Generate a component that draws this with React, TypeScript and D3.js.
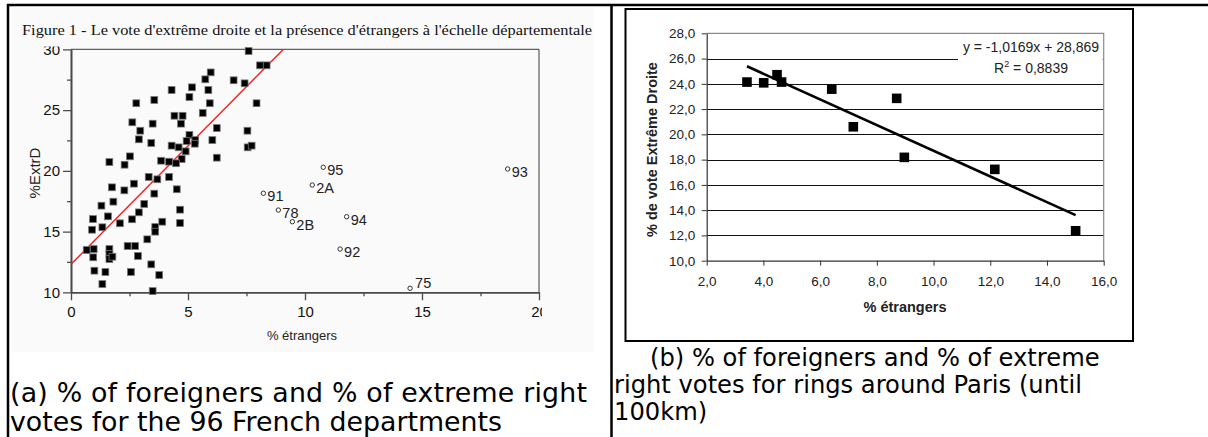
import { useEffect, useRef } from "react";
import * as d3 from "d3";

const SANS = "'Liberation Sans', Arial, sans-serif";
const SERIF = "'Liberation Serif', 'Times New Roman', serif";
const CAPTION = "'DejaVu Sans', Verdana, sans-serif";

// (a) the 96 departments: % foreigners vs % extreme right vote
const deptForeigners = [
  7.59, 8.08, 8.36, 5.97, 5.74, 6.95, 7.42, 5.17, 4.3, 5.87, 5.06, 2.79, 3.56, 5.93, 7.93, 5.63,
  4.42, 4.77, 2.62, 3.49, 4.7, 2.96, 6.23, 7.54, 2.9, 3.43, 5.06, 4.94, 5.31, 5.29, 6.04, 4.3,
  4.6, 4.9, 7.55, 7.72, 4.73, 4.49, 4.19, 3.85, 6.23, 1.64, 2.29, 2.52, 3.32, 3.69, 4.19,
  2.69, 1.75, 2.28, 4.52, 3.56, 1.81, 1.3, 3.13, 2.9, 1.58, 0.94, 2.61, 2.09, 0.9, 1.34, 4.66,
  4.66, 3.9, 3.6, 3.6, 3.26, 0.67, 0.97, 1.64, 1.64, 0.95, 1.64, 1.77, 2.42, 2.74, 2.86, 3.43,
  3.77, 1.0, 1.47, 2.56, 1.34, 3.49
];
const deptVote = [
  29.86, 28.68, 28.68, 28.1, 27.53, 27.45, 27.2, 26.87, 26.65, 26.65, 26.07, 25.56, 25.83, 25.56, 25.56, 24.76,
  24.53, 24.53, 23.99, 23.88, 23.88, 23.3, 23.52, 23.3, 22.59, 22.29, 22.95, 22.45, 22.53, 22.23, 22.53, 22.07,
  21.93, 21.6, 21.93, 22.07, 20.97, 20.62, 20.75, 20.83, 21.08, 20.72, 20.5, 21.19, 19.49, 19.3, 19.49,
  18.94, 18.64, 18.39, 18.48, 18.12, 17.46, 17.13, 17.27, 16.58, 16.25, 16.03, 16.01, 15.68, 15.15, 15.35, 16.8,
  15.7, 15.81, 15.37, 14.99, 14.36, 13.48, 13.56, 13.56, 13.15, 12.88, 12.74, 12.93, 13.81, 13.81, 12.99, 12.3,
  11.42, 11.78, 11.67, 11.67, 10.68, 10.1
];

// labelled departments (open circles)
const outlierCodes = ["95", "93", "2A", "91", "78", "2B", "94", "92", "75"];
const outlierForeigners = [10.78, 18.66, 10.31, 8.22, 8.86, 9.46, 11.78, 11.5, 14.49];
const outlierVote = [20.29, 20.15, 18.83, 18.15, 16.77, 15.81, 16.22, 13.56, 10.33];

const deptTicksX = [0, 5, 10, 15, 20];
const deptMinorX = [2.5, 7.5, 12.5, 17.5];
const deptTicksY = [10, 15, 20, 25, 30];
const deptMinorY = [12.5, 17.5, 22.5, 27.5];
const deptFitIntercept = 12.3;
const deptFitSlope = 1.95;

// (b) rings around Paris
const ringForeigners = [3.42, 4.01, 4.48, 4.64, 6.41, 7.17, 8.7, 8.97, 12.16, 15.01];
const ringVote = [24.14, 24.08, 24.72, 24.14, 23.58, 20.6, 22.85, 18.18, 17.23, 12.37];
const ringTicksX = [2, 4, 6, 8, 10, 12, 14, 16];
const ringTicksY = [10, 12, 14, 16, 18, 20, 22, 24, 26, 28];
const trendSlope = -1.0169;
const trendIntercept = 28.869;
const trendR2 = 0.8839;

const frNum = (v: number, digits: number) => v.toFixed(digits).replace(".", ",");

function DepartmentScatter() {
  const ref = useRef<SVGGElement>(null);

  useEffect(() => {
    if (!ref.current) return;
    const g = d3.select(ref.current);
    g.selectAll("*").remove();

    const x = d3.scaleLinear().domain([0, 20]).range([71, 539]);
    const y = d3.scaleLinear().domain([10, 30]).range([292.3, 49.3]);

    const defs = g.append("defs");
    defs.append("clipPath").attr("id", "crop-a").append("rect")
      .attr("x", 12).attr("y", 46.5).attr("width", 530).attr("height", 306);
    defs.append("clipPath").attr("id", "plot-a").append("rect")
      .attr("x", x(0)).attr("y", y(30)).attr("width", x(20) - x(0)).attr("height", y(10) - y(30));

    const fig = g.append("g").attr("clip-path", "url(#crop-a)");

    fig.append("path")
      .attr("d", `M${x(0)},${y(30)}H${x(20)}V${y(10)}`)
      .attr("fill", "none")
      .attr("stroke", "#3a3a3a")
      .attr("stroke-width", 1);

    const styleAxis = (sel: any) => {
      sel.attr("font-family", SANS).attr("font-size", 15).attr("color", "#4a4a4a");
      sel.select(".domain").attr("stroke-width", 1.6);
      sel.selectAll(".tick line").attr("stroke-width", 1.3);
      sel.selectAll("text").attr("fill", "#111");
    };

    fig.append("g")
      .attr("transform", `translate(0,${y(10)})`)
      .call(d3.axisBottom(x).tickValues(deptTicksX).tickSize(8).tickSizeOuter(0).tickPadding(6).tickFormat(d3.format("d")))
      .call(styleAxis);
    fig.append("g")
      .attr("transform", `translate(0,${y(10)})`)
      .call(d3.axisBottom(x).tickValues(deptMinorX).tickSize(4).tickSizeOuter(0).tickFormat(() => ""))
      .call(styleAxis);
    fig.append("g")
      .attr("transform", `translate(${x(0)},0)`)
      .call(d3.axisLeft(y).tickValues(deptTicksY).tickSize(8).tickSizeOuter(0).tickPadding(3).tickFormat(d3.format("d")))
      .call(styleAxis);
    fig.append("g")
      .attr("transform", `translate(${x(0)},0)`)
      .call(d3.axisLeft(y).tickValues(deptMinorY).tickSize(4).tickSizeOuter(0).tickFormat(() => ""))
      .call(styleAxis);

    fig.append("g")
      .attr("clip-path", "url(#plot-a)")
      .append("line")
      .attr("x1", x(0))
      .attr("y1", y(deptFitIntercept))
      .attr("x2", x(20))
      .attr("y2", y(deptFitIntercept + deptFitSlope * 20))
      .attr("stroke", "#ff1a1a")
      .attr("stroke-width", 1.4);

    const depts = deptForeigners.map((v, i) => ({ x: v, y: deptVote[i] }));
    fig.append("g")
      .selectAll("rect")
      .data(depts)
      .join("rect")
      .attr("x", (d) => x(d.x) - 3.4)
      .attr("y", (d) => y(d.y) - 3.4)
      .attr("width", 6.8)
      .attr("height", 6.8)
      .attr("fill", "#000")
      .attr("stroke", "#777")
      .attr("stroke-width", 0.8);

    const outliers = outlierCodes.map((code, i) => ({ code, x: outlierForeigners[i], y: outlierVote[i] }));
    fig.append("g")
      .selectAll("circle")
      .data(outliers)
      .join("circle")
      .attr("cx", (d) => x(d.x))
      .attr("cy", (d) => y(d.y))
      .attr("r", 2.2)
      .attr("fill", "#fff")
      .attr("stroke", "#333")
      .attr("stroke-width", 1);
    fig.append("g")
      .selectAll("text")
      .data(outliers)
      .join("text")
      .attr("x", (d) => x(d.x) + (d.code === "75" ? 5 : 4))
      .attr("y", (d) => y(d.y) + (d.code === "75" ? 0 : 8))
      .attr("font-family", SANS)
      .attr("font-size", 14.5)
      .attr("fill", "#222")
      .text((d) => d.code);

    fig.append("text")
      .attr("transform", `translate(40,173) rotate(-90)`)
      .attr("text-anchor", "middle")
      .attr("font-family", SANS)
      .attr("font-size", 15)
      .attr("fill", "#222")
      .text("%ExtrD");

    fig.append("text")
      .attr("x", 302)
      .attr("y", 340)
      .attr("text-anchor", "middle")
      .attr("font-family", SANS)
      .attr("font-size", 13)
      .attr("fill", "#222")
      .text("% étrangers");
  }, []);

  return <g ref={ref} />;
}

function RingScatter() {
  const ref = useRef<SVGGElement>(null);

  useEffect(() => {
    if (!ref.current) return;
    const g = d3.select(ref.current);
    g.selectAll("*").remove();

    const x = d3.scaleLinear().domain([2, 16]).range([706.7, 1103.7]);
    const y = d3.scaleLinear().domain([10, 28]).range([260.7, 33.3]);

    g.append("g")
      .selectAll("line")
      .data(ringTicksY.filter((v) => v > 10 && v < 28))
      .join("line")
      .attr("x1", x(2))
      .attr("x2", x(16))
      .attr("y1", (d) => Math.round(y(d)) + 0.5)
      .attr("y2", (d) => Math.round(y(d)) + 0.5)
      .attr("stroke", "#111")
      .attr("stroke-width", 1);

    g.append("path")
      .attr("d", `M${x(2)},${y(28)}H${x(16)}V${y(10)}`)
      .attr("fill", "none")
      .attr("stroke", "#8a8a8a")
      .attr("stroke-width", 1.2);

    // trendline label, on a white box over the gridlines
    g.append("rect")
      .attr("x", 958)
      .attr("y", y(28) + 1)
      .attr("width", x(16) - 958 - 1)
      .attr("height", 44)
      .attr("fill", "#fff");
    g.append("text")
      .attr("x", 1031)
      .attr("y", 51.5)
      .attr("font-family", SANS)
      .attr("font-size", 14)
      .attr("fill", "#222")
      .attr("text-anchor", "middle")
      .text(`y = ${frNum(trendSlope, 4)}x + ${frNum(trendIntercept, 3)}`);
    const r2 = g.append("text")
      .attr("x", 1031)
      .attr("y", 73)
      .attr("font-family", SANS)
      .attr("font-size", 14)
      .attr("fill", "#222")
      .attr("text-anchor", "middle");
    r2.append("tspan").text("R");
    r2.append("tspan").attr("dy", -6).attr("font-size", 9).text("2");
    r2.append("tspan").attr("dy", 6).text(` = ${frNum(trendR2, 4)}`);

    const styleAxis = (sel: any) => {
      sel.attr("font-family", SANS).attr("font-size", 13.5).attr("color", "#333");
      sel.select(".domain").attr("stroke-width", 1.2);
      sel.selectAll("text").attr("fill", "#222");
    };

    g.append("g")
      .attr("transform", `translate(0,${y(10)})`)
      .call(d3.axisBottom(x).tickValues(ringTicksX).tickSize(5).tickSizeOuter(0).tickPadding(11).tickFormat((d: any) => frNum(d, 1)))
      .call(styleAxis);
    g.append("g")
      .attr("transform", `translate(${x(2)},0)`)
      .call(d3.axisLeft(y).tickValues(ringTicksY).tickSize(5).tickSizeOuter(0).tickPadding(6.5).tickFormat((d: any) => frNum(d, 1)))
      .call(styleAxis);

    const rings = ringForeigners.map((v, i) => ({ x: v, y: ringVote[i] }));
    g.append("g")
      .selectAll("rect")
      .data(rings)
      .join("rect")
      .attr("x", (d) => x(d.x) - 4.8)
      .attr("y", (d) => y(d.y) - 4.8)
      .attr("width", 9.6)
      .attr("height", 9.6)
      .attr("fill", "#000");

    const [xMin, xMax] = d3.extent(ringForeigners) as [number, number];
    g.append("line")
      .attr("x1", x(xMin))
      .attr("y1", y(trendIntercept + trendSlope * xMin))
      .attr("x2", x(xMax))
      .attr("y2", y(trendIntercept + trendSlope * xMax))
      .attr("stroke", "#000")
      .attr("stroke-width", 2.6);

    g.append("text")
      .attr("transform", `translate(657,149.5) rotate(-90)`)
      .attr("text-anchor", "middle")
      .attr("font-family", SANS)
      .attr("font-weight", "bold")
      .attr("font-size", 14.5)
      .attr("fill", "#222")
      .text("% de vote Extrême Droite");

    g.append("text")
      .attr("x", 905)
      .attr("y", 311.5)
      .attr("text-anchor", "middle")
      .attr("font-family", SANS)
      .attr("font-weight", "bold")
      .attr("font-size", 14.5)
      .attr("fill", "#222")
      .text("% étrangers");
  }, []);

  return <g ref={ref} />;
}

export default function App() {
  return (
    <svg
      width={1208}
      height={437}
      style={{ position: "absolute", left: 0, top: 0, display: "block" }}
    >
      <rect width={1208} height={437} fill="#fff" />
      <rect x={12} y={8} width={582} height={344} fill="#fafafa" />
      <text x={22} y={34.5} fontFamily={SERIF} fontSize={15} fill="#111" textLength={570} lengthAdjust="spacingAndGlyphs">
        Figure 1 - Le vote d'extrême droite et la présence d'étrangers à l'échelle départementale
      </text>
      <DepartmentScatter />

      <rect x={625.5} y={9} width={507.5} height={332} fill="#fff" stroke="#000" strokeWidth={2} />
      <RingScatter />

      <line x1={7} x2={1208} y1={5} y2={5} stroke="#000" strokeWidth={2.5} />
      <line x1={8} x2={8} y1={4} y2={437} stroke="#000" strokeWidth={2.5} />
      <line x1={611.5} x2={611.5} y1={4} y2={437} stroke="#000" strokeWidth={2.5} />

      <g fontFamily={CAPTION} fill="#000">
        <text x={10} y={402} fontSize={26.8} textLength={577}>(a) % of foreigners and % of extreme right</text>
        <text x={10} y={431} fontSize={26.8} textLength={492}>votes for the 96 French departments</text>
        <text x={650} y={366} fontSize={24.2}>(b) % of foreigners and % of extreme</text>
        <text x={614} y={393} fontSize={24.2}>right votes for rings around Paris (until</text>
        <text x={614} y={420} fontSize={24.2}>100km)</text>
      </g>
    </svg>
  );
}
